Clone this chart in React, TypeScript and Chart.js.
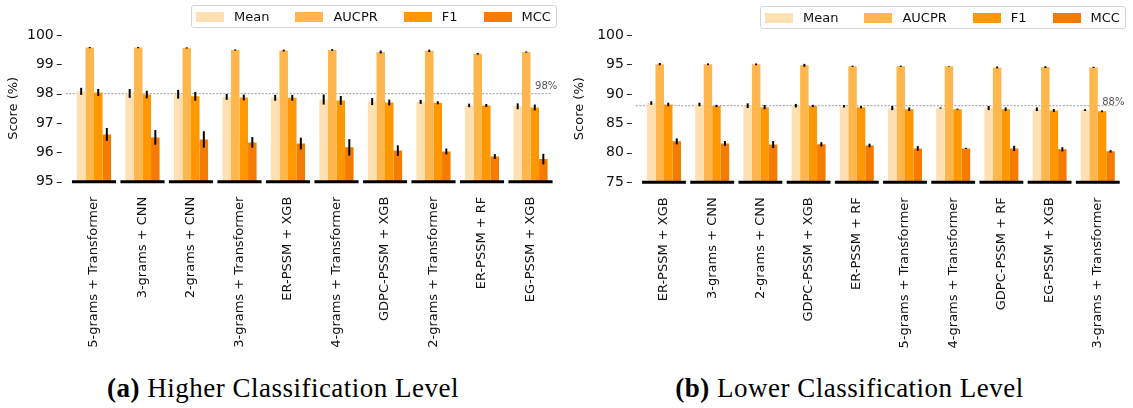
import React, { useEffect, useRef } from "react";
import { Chart, registerables } from "chart.js";

Chart.register(...registerables);

const seriesNames = ["Mean", "AUCPR", "F1", "MCC"];
const seriesColors = ["#FFE0B2", "#FFB74D", "#FF9800", "#F57C00"];

// (a) Higher classification level
const higherCategories = [
  "5-grams + Transformer",
  "3-grams + CNN",
  "2-grams + CNN",
  "3-grams + Transformer",
  "ER-PSSM + XGB",
  "4-grams + Transformer",
  "GDPC-PSSM + XGB",
  "2-grams + Transformer",
  "ER-PSSM + RF",
  "EG-PSSM + XGB",
];
const higherMean = [98.08, 98.01, 97.98, 97.89, 97.86, 97.8, 97.73, 97.72, 97.6, 97.57];
const higherAucpr = [99.57, 99.57, 99.56, 99.49, 99.47, 99.49, 99.42, 99.46, 99.36, 99.42];
const higherF1 = [98.04, 97.97, 97.91, 97.87, 97.86, 97.77, 97.7, 97.69, 97.6, 97.53];
const higherMcc = [96.61, 96.51, 96.44, 96.34, 96.3, 96.17, 96.06, 96.03, 95.86, 95.77];
const higherMeanErr = [0.12, 0.15, 0.15, 0.1, 0.1, 0.17, 0.12, 0.07, 0.06, 0.1];
const higherAucprErr = [0.02, 0.02, 0.02, 0.02, 0.03, 0.03, 0.05, 0.04, 0.03, 0.02];
const higherF1Err = [0.12, 0.13, 0.15, 0.1, 0.1, 0.15, 0.1, 0.05, 0.05, 0.1];
const higherMccErr = [0.22, 0.25, 0.28, 0.18, 0.2, 0.28, 0.18, 0.1, 0.08, 0.18];
const higherTicks = [95, 96, 97, 98, 99, 100];
const higherRef = 98;

// (b) Lower classification level
const lowerCategories = [
  "ER-PSSM + XGB",
  "3-grams + CNN",
  "2-grams + CNN",
  "GDPC-PSSM + XGB",
  "ER-PSSM + RF",
  "5-grams + Transformer",
  "4-grams + Transformer",
  "GDPC-PSSM + RF",
  "EG-PSSM + XGB",
  "3-grams + Transformer",
];
const lowerMean = [88.45, 88.2, 88.0, 88.0, 87.9, 87.6, 87.6, 87.6, 87.4, 87.25];
const lowerAucpr = [95.05, 95.03, 95.02, 94.85, 94.7, 94.7, 94.7, 94.5, 94.55, 94.5];
const lowerF1 = [88.2, 87.95, 87.75, 87.95, 87.75, 87.4, 87.4, 87.4, 87.2, 87.05];
const lowerMcc = [81.95, 81.6, 81.4, 81.45, 81.25, 80.75, 80.75, 80.75, 80.6, 80.25];
const lowerMeanErr = [0.3, 0.3, 0.4, 0.3, 0.2, 0.35, 0.1, 0.35, 0.3, 0.15];
const lowerAucprErr = [0.2, 0.15, 0.15, 0.25, 0.1, 0.1, 0.05, 0.15, 0.15, 0.1];
const lowerF1Err = [0.3, 0.2, 0.35, 0.2, 0.2, 0.3, 0.1, 0.3, 0.25, 0.15];
const lowerMccErr = [0.5, 0.4, 0.6, 0.35, 0.3, 0.4, 0.1, 0.45, 0.35, 0.2];
const lowerTicks = [75, 80, 85, 90, 95, 100];
const lowerRef = 88;

const FONT = '"DejaVu Sans", sans-serif';

const overlayPlugin = {
  id: "overlay",
  beforeDatasetsDraw(chart: any, _args: any, opts: any) {
    const { ctx, chartArea, scales } = chart;
    const y = scales.y;
    const yy = y.getPixelForValue(opts.refValue);
    ctx.save();
    ctx.strokeStyle = "#9a9a9a";
    ctx.lineWidth = 1;
    ctx.setLineDash([2, 1.5]);
    ctx.beginPath();
    ctx.moveTo(chartArea.left - 4, yy);
    ctx.lineTo(chartArea.right - 3, yy);
    ctx.stroke();
    ctx.setLineDash([]);
    ctx.fillStyle = "#555";
    ctx.font = "10px " + FONT;
    ctx.textAlign = "right";
    ctx.textBaseline = "alphabetic";
    ctx.fillText(opts.refLabel, chartArea.right + 2.5, yy - opts.labelLift);
    // y tick marks
    ctx.strokeStyle = "#222";
    ctx.lineWidth = 1;
    ctx.beginPath();
    y.ticks.forEach((_t: any, i: number) => {
      const py = Math.round(y.getPixelForTick(i)) + 0.5;
      ctx.moveTo(chartArea.left - 13, py);
      ctx.lineTo(chartArea.left - 8, py);
    });
    ctx.stroke();
    ctx.restore();
  },
  afterDatasetsDraw(chart: any, _args: any, opts: any) {
    const { ctx, chartArea, scales } = chart;
    const x = scales.x;
    const y = scales.y;
    ctx.save();
    ctx.strokeStyle = "#000";
    ctx.lineWidth = 2;
    chart.data.datasets.forEach((ds: any, di: number) => {
      const meta = chart.getDatasetMeta(di);
      meta.data.forEach((bar: any, i: number) => {
        const v = ds.data[i];
        const e = opts.errors[di][i];
        ctx.beginPath();
        ctx.moveTo(bar.x, y.getPixelForValue(v + e));
        ctx.lineTo(bar.x, y.getPixelForValue(v - e));
        ctx.stroke();
      });
    });
    const base = y.getPixelForValue(y.min);
    const n = chart.data.labels.length;
    const w = (chartArea.right - chartArea.left) / n;
    ctx.lineWidth = 3;
    ctx.beginPath();
    for (let i = 0; i < n; i++) {
      const cx = x.getPixelForValue(i);
      ctx.moveTo(cx - 0.455 * w, base);
      ctx.lineTo(cx + 0.455 * w, base);
    }
    ctx.stroke();
    ctx.restore();
  },
};

type PanelProps = {
  categories: string[];
  values: number[][];
  errors: number[][];
  ticks: number[];
  refValue: number;
  labelLift: number;
  canvasWidth: number;
  canvasHeight: number;
  areaLeft: number;
  areaRight: number;
  areaTop: number;
  areaBottom: number;
};

function Panel(p: PanelProps) {
  const ref = useRef<HTMLCanvasElement | null>(null);
  useEffect(() => {
    if (!ref.current) return;
    const chart = new Chart(ref.current, {
      type: "bar",
      data: {
        labels: p.categories,
        datasets: seriesNames.map((name, i) => ({
          label: name,
          data: p.values[i],
          backgroundColor: seriesColors[i],
          borderWidth: 0,
          categoryPercentage: 0.705,
          barPercentage: 1.0,
        })),
      },
      options: {
        animation: false,
        responsive: false,
        maintainAspectRatio: false,
        devicePixelRatio: 1,
        layout: {
          padding: {
            left: 0,
            top: p.areaTop,
            right: p.canvasWidth - p.areaRight,
            bottom: 0,
          },
        },
        plugins: {
          legend: { display: false },
          tooltip: { enabled: false },
          overlay: {
            refValue: p.refValue,
            refLabel: p.refValue + "%",
            labelLift: p.labelLift,
            errors: p.errors,
          },
        } as any,
        scales: {
          x: {
            type: "category",
            offset: true,
            grid: { display: false, drawTicks: false },
            border: { display: false },
            ticks: {
              autoSkip: false,
              maxRotation: 90,
              minRotation: 90,
              padding: 15,
              color: "#111",
              font: { family: FONT, size: 13 },
            },
            afterFit: (s: any) => {
              s.height = p.canvasHeight - p.areaBottom;
            },
          },
          y: {
            type: "linear",
            min: p.ticks[0],
            max: p.ticks[p.ticks.length - 1],
            grid: { display: false, drawTicks: false },
            border: { display: false },
            afterBuildTicks: (s: any) => {
              s.ticks = p.ticks.map((v) => ({ value: v }));
            },
            ticks: {
              padding: 16,
              color: "#111",
              font: { family: FONT, size: 14 },
            },
            title: {
              display: true,
              text: "Score (%)",
              color: "#111",
              font: { family: FONT, size: 13 },
              padding: { top: 6, bottom: 0 },
            },
            afterFit: (s: any) => {
              s.width = p.areaLeft;
            },
          },
        },
      },
      plugins: [overlayPlugin as any],
    });
    return () => chart.destroy();
  }, []);
  return (
    <canvas
      ref={ref}
      width={p.canvasWidth}
      height={p.canvasHeight}
      style={{ width: p.canvasWidth, height: p.canvasHeight, display: "block" }}
    />
  );
}

function Legend({ left, top }: { left: number; top: number }) {
  return (
    <div
      style={{
        position: "absolute",
        left,
        top,
        height: 23,
        boxSizing: "border-box",
        border: "1px solid #d4d4d4",
        borderRadius: 3,
        background: "rgba(255,255,255,0.85)",
        display: "flex",
        alignItems: "center",
        padding: "0 5px 0 4px",
        fontFamily: FONT,
        fontSize: 13,
        color: "#111",
        whiteSpace: "nowrap",
      }}
    >
      {seriesNames.map((name, i) => (
        <div
          key={name}
          style={{ display: "flex", alignItems: "center", marginLeft: i === 0 ? 0 : 26 }}
        >
          <span
            style={{
              display: "inline-block",
              width: 28,
              height: 10,
              background: seriesColors[i],
              marginRight: 10,
            }}
          />
          <span style={{ lineHeight: "15px" }}>{name}</span>
        </div>
      ))}
    </div>
  );
}

const captionStyle: React.CSSProperties = {
  position: "absolute",
  top: 373,
  textAlign: "center",
  fontFamily: '"Liberation Serif", "DejaVu Serif", serif',
  fontSize: 27,
  letterSpacing: 0.5,
  lineHeight: "30px",
  color: "#000",
  whiteSpace: "nowrap",
};

export default function App() {
  return (
    <div
      style={{
        position: "absolute",
        left: 0,
        top: 0,
        width: 1133,
        height: 408,
        background: "#fff",
        overflow: "hidden",
      }}
    >
      <div style={{ position: "absolute", left: 0, top: 0 }}>
        <Panel
          categories={higherCategories}
          values={[higherMean, higherAucpr, higherF1, higherMcc]}
          errors={[higherMeanErr, higherAucprErr, higherF1Err, higherMccErr]}
          ticks={higherTicks}
          refValue={higherRef}
          labelLift={5}
          canvasWidth={566}
          canvasHeight={362}
          areaLeft={69.75}
          areaRight={554.75}
          areaTop={35}
          areaBottom={181.7}
        />
      </div>
      <div style={{ position: "absolute", left: 566, top: 0 }}>
        <Panel
          categories={lowerCategories}
          values={[lowerMean, lowerAucpr, lowerF1, lowerMcc]}
          errors={[lowerMeanErr, lowerAucprErr, lowerF1Err, lowerMccErr]}
          ticks={lowerTicks}
          refValue={lowerRef}
          labelLift={1}
          canvasWidth={567}
          canvasHeight={362}
          areaLeft={73.9}
          areaRight={555.9}
          areaTop={35}
          areaBottom={182.3}
        />
      </div>
      <Legend left={191} top={5} />
      <Legend left={760} top={6} />
      <div style={{ ...captionStyle, left: 0, width: 566 }}>
        <b>(a)</b> Higher Classification Level
      </div>
      <div style={{ ...captionStyle, left: 566, width: 567 }}>
        <b>(b)</b> Lower Classification Level
      </div>
    </div>
  );
}
